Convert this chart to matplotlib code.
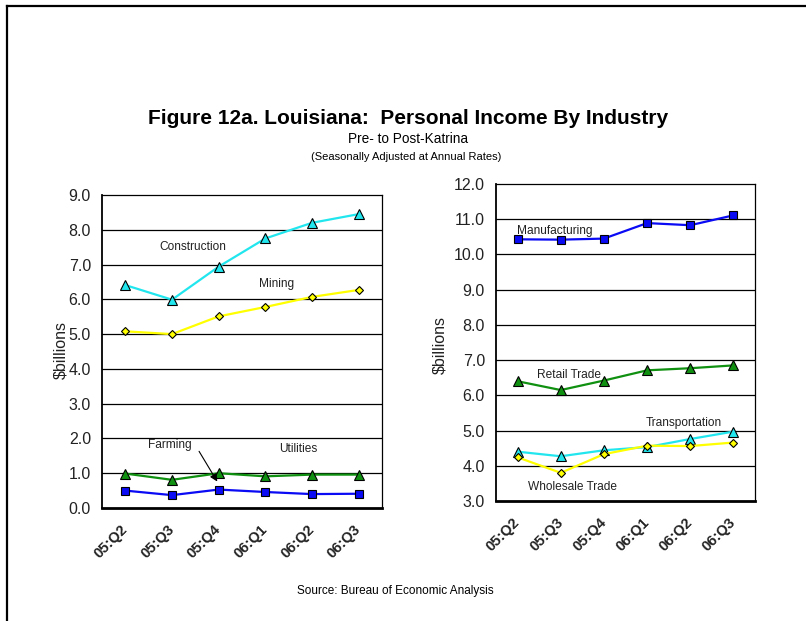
import matplotlib
matplotlib.use("Agg")
import matplotlib.pyplot as plt
from matplotlib.lines import Line2D

plt.rcParams['font.family'] = ['Liberation Sans', 'DejaVu Sans']

quarters = ["05:Q2", "05:Q3", "05:Q4", "06:Q1", "06:Q2", "06:Q3"]

# Left panel ($billions)
construction = [6.41, 5.99, 6.94, 7.75, 8.20, 8.45]
mining = [5.08, 5.00, 5.51, 5.78, 6.07, 6.27]
utilities = [0.99, 0.81, 1.00, 0.91, 0.96, 0.96]
farming = [0.50, 0.37, 0.53, 0.46, 0.40, 0.41]

# Right panel ($billions)
manufacturing = [10.43, 10.42, 10.45, 10.89, 10.83, 11.11]
retail_trade = [6.40, 6.15, 6.42, 6.71, 6.77, 6.85]
transportation = [4.40, 4.27, 4.44, 4.53, 4.76, 4.97]
wholesale_trade = [4.24, 3.80, 4.33, 4.57, 4.56, 4.66]

left_ticks = [0, 1, 2, 3, 4, 5, 6, 7, 8, 9]
right_ticks = [3, 4, 5, 6, 7, 8, 9, 10, 11, 12]

CYAN = "#22E6EE"
YELLOW = "#FFFF00"
GREEN = "#109010"
BLUE = "#0A0AF5"

W, H = 806, 621
fig = plt.figure(figsize=(W / 100, H / 100), dpi=100)

def fx(px):
    return px / W

def fy(py):
    return 1 - py / H

# figure border (top and left visible)
fig.add_artist(Line2D([fx(7), 1.0], [fy(6), fy(6)], color="black", lw=1.6))
fig.add_artist(Line2D([fx(7), fx(7)], [fy(6), 0.0], color="black", lw=1.6))

def setup(ax, ticks):
    ax.set_xlim(-0.5, 5.5)
    ax.set_ylim(ticks[0], ticks[-1])
    ax.set_yticks(ticks)
    ax.set_yticklabels([f"{t:.1f}" for t in ticks], fontsize=11.5,
                       color="#222222")
    ax.set_xticks(range(len(quarters)))
    ax.set_xticklabels(quarters, fontsize=10.5, fontweight="bold",
                       rotation=45, ha="right", va="center",
                       rotation_mode="anchor", color="#222222")
    ax.tick_params(axis="both", length=0)
    ax.tick_params(axis="y", pad=8)
    ax.tick_params(axis="x", pad=14)
    for t in ticks[1:-1]:
        ax.axhline(t, color="black", lw=0.9, zorder=1)
    for s in ["top", "right"]:
        ax.spines[s].set_linewidth(0.9)
    ax.spines["left"].set_linewidth(1.3)
    ax.spines["bottom"].set_linewidth(2.0)

def series(ax, x, y, color, marker, ms):
    ax.plot(x, y, color=color, lw=1.6, marker=marker, markersize=ms,
            markerfacecolor=color, markeredgecolor="black",
            markeredgewidth=0.8, zorder=3)

x = list(range(len(quarters)))

# Left axes
axL = fig.add_axes([fx(102), fy(508), fx(382) - fx(102), fy(195) - fy(508)])
setup(axL, left_ticks)
series(axL, x, construction, CYAN, "^", 6.5)
series(axL, x, mining, YELLOW, "D", 4.2)
series(axL, x, utilities, GREEN, "^", 6.5)
series(axL, x, farming, BLUE, "s", 6)

txt = dict(fontsize=8.6, color="#222222", ha="center", va="center")
axL.text(1.45, 7.51, "Construction", **txt)
axL.text(3.25, 6.44, "Mining", **txt)
axL.text(0.95, 1.82, "Farming", **txt)
axL.text(3.7, 1.70, "Utilities", **txt)
axL.annotate("", xy=(1.97, 0.76), xytext=(1.58, 1.63),
             arrowprops=dict(arrowstyle="-|>", color="black", lw=0.8,
                             mutation_scale=11, shrinkA=0, shrinkB=0))

# Right axes
axR = fig.add_axes([fx(496), fy(501), fx(755) - fx(496), fy(184) - fy(501)])
setup(axR, right_ticks)
series(axR, x, manufacturing, BLUE, "s", 6)
series(axR, x, retail_trade, GREEN, "^", 6.5)
series(axR, x, transportation, CYAN, "^", 6.5)
series(axR, x, wholesale_trade, YELLOW, "D", 4.2)

axR.text(-0.02, 10.67, "Manufacturing", fontsize=8.6, color="#222222",
         ha="left", va="center")
axR.text(1.2, 6.58, "Retail Trade", **txt)
axR.text(3.85, 5.22, "Transportation", **txt)
axR.text(1.27, 3.39, "Wholesale Trade", **txt)

# y labels
fig.text(fx(61), fy(350), r"\$billions", rotation=90, fontsize=11.5,
         ha="center", va="center", color="#222222")
fig.text(fx(440), fy(345), r"\$billions", rotation=90, fontsize=11.5,
         ha="center", va="center", color="#222222")

# titles
fig.text(fx(408), fy(118), "Figure 12a. Louisiana:  Personal Income By Industry",
         fontsize=15, fontweight="bold", ha="center", va="center")
fig.text(fx(408), fy(139), "Pre- to Post-Katrina", fontsize=9.8,
         ha="center", va="center")
fig.text(fx(406), fy(157), "(Seasonally Adjusted at Annual Rates)", fontsize=8,
         ha="center", va="center")
fig.text(fx(395), fy(591), "Source: Bureau of Economic Analysis", fontsize=8.5,
         ha="center", va="center")

fig.savefig("out.png", dpi=100)
